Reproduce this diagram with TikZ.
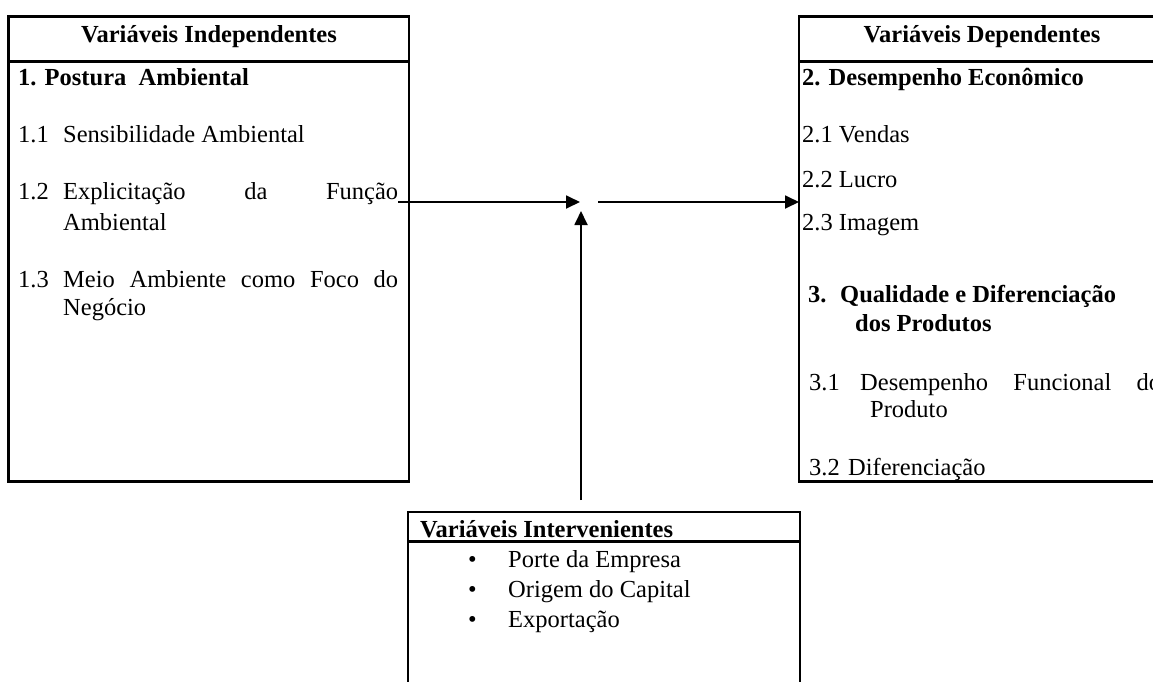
\documentclass[tikz,border=0pt]{standalone}
\usepackage{fontspec}
\setmainfont{Liberation Serif}
\usetikzlibrary{arrows.meta}
% fixed-width column for item numbers
\newcommand{\numcol}[2][45pt]{\makebox[#1][l]{#2}}
\begin{document}
\begin{tikzpicture}[x=1pt,y=-1pt,
  frame/.style={draw,line width=2.6pt,inner sep=0pt,outer sep=0pt},
  rule/.style={line width=2.6pt},
  txt/.style={anchor=base west,inner sep=0pt,font=\fontsize{24.5}{29}\selectfont},
  btxt/.style={txt,font=\fontsize{24.5}{29}\selectfont\bfseries},
  hdr/.style={btxt,anchor=base},
  arr/.style={line width=1.8pt,-{Triangle[length=14pt,width=13pt]}}
]
\useasboundingbox (0,0) rectangle (1153,681);
\clip (0,0) rectangle (1153,681);

% ---- boxes ----
\node[frame,anchor=north west,minimum width=400.5pt,minimum height=465pt] (ind) at (8.5,16.5) {};
\node[frame,anchor=north west,minimum width=366pt,minimum height=465pt] (dep) at (799,16.5) {};
\node[frame,anchor=north west,minimum width=392pt,minimum height=200pt] (mod) at (408,512) {};

% header separators
\draw[rule] ([yshift=-45pt]ind.north west) -- ([yshift=-45pt]ind.north east);
\draw[rule] ([yshift=-45pt]dep.north west) -- ([yshift=-45pt]dep.north east);
\draw[rule] ([yshift=-29.5pt]mod.north west) -- ([yshift=-29.5pt]mod.north east);

% ---- independent variables ----
\node[hdr] (hI) at (209,42) {Variáveis Independentes};
\node[btxt] (p1) at (18,85) {1. Postura~ Ambiental};
\node[txt] (l11) at (18,142) {\numcol{1.1}Sensibilidade Ambiental};
\node[txt] (l12) at (18,199) {\numcol{1.2}\hbox to 335pt{Explicitação\hfill da\hfill Função}};
\node[txt] (l12b) at (63,230) {Ambiental};
\node[txt] (l13) at (18,287) {\numcol{1.3}\hbox to 335pt{Meio\hfill Ambiente\hfill como\hfill Foco\hfill do}};
\node[txt] (l13b) at (63,315) {Negócio};

% ---- dependent variables ----
\node[hdr] (hD) at (982,42) {Variáveis Dependentes};
\node[btxt] (p2) at (802,85) {2. Desempenho Econômico};
\node[txt] (l21) at (802,142) {2.1 Vendas};
\node[txt] (l22) at (802,187) {2.2 Lucro};
\node[txt] (l23) at (802,230) {2.3 Imagem};
\node[btxt] (p3) at (808,302) {\numcol[32pt]{3.}Qualidade e Diferenciação};
\node[btxt] (p3b) at (855,331) {dos Produtos};
\node[txt] (l31) at (809,390) {\numcol[51pt]{3.1}\hbox to 301pt{Desempenho\hfill Funcional\hfill do}};
\node[txt] (l31b) at (870,417) {Produto};
\node[txt] (l32) at (809,475) {\numcol[39pt]{3.2}Diferenciação};

% ---- intervening variables ----
\node[btxt] (hM) at (420,537) {Variáveis Intervenientes};
\node[txt] (m1) at (468,567) {\numcol[40pt]{•}Porte da Empresa};
\node[txt] (m2) at (468,597) {\numcol[40pt]{•}Origem do Capital};
\node[txt] (m3) at (468,627) {\numcol[40pt]{•}Exportação};

% ---- connectors ----
\coordinate (hubW) at (580,202);
\coordinate (hubE) at (598,202);
\coordinate (hubS) at (581,211);
\draw[arr] ([yshift=-3pt]l12.base east) -- (hubW);
\draw[arr] (hubE) -- (dep.west |- hubE);
\draw[arr] ([yshift=12pt]mod.north -| hubS) -- (hubS);
\end{tikzpicture}
\end{document}
